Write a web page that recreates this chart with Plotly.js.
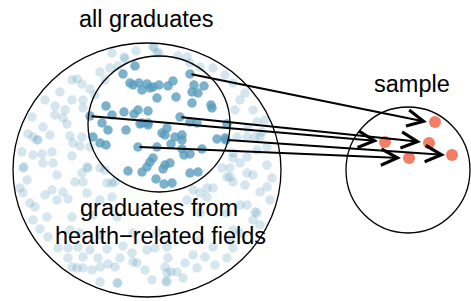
<!DOCTYPE html>
<html>
<head>
<meta charset="utf-8">
<script src="https://cdn.plot.ly/plotly-3.0.1.min.js"></script>
<style>html,body{margin:0;padding:0;background:#fff;}#chart{width:471px;height:301px;}</style>
</head>
<body>
<div id="chart"></div>
<script>
// Light dots: all graduates (outside health-related circle)
const lightX = [154,159,136,178,125,100,110,118,190,200,213,72,77,60,90,82,233,245,55,72,83,83,65,240,253,235,32,63,55,43,67,257,248,262,38,70,82,80,73,33,237,247,260,267,22,33,42,52,43,72,247,233,240,23,53,82,88,267,247,230,253,27,75,83,107,115,227,233,267,20,23,52,63,87,112,213,200,207,260,270,30,35,57,68,100,187,247,255,240,33,47,72,93,117,200,227,253,257,40,48,80,100,133,157,240,233,58,68,78,107,123,155,167,147,213,233,200,68,83,98,108,132,133,168,193,205,227,72,77,83,92,100,115,137,165,177,197,167,100,118,152,167,183,28,37,24,255,257,272,112,124,153,157,187,117,171,166,87,100,105,112,193,207,222,230,233,90,45,50,95,57,45,70,90,120,145,185,215,230,260,245,265,105,225];
const lightY = [47,53,51,56,59,72,68,66,63,67,68,80,79,92,89,84,83,93,106,100,100,108,110,100,110,110,117,118,115,127,124,122,128,132,140,136,137,146,143,137,137,137,137,147,152,155,154,152,163,156,157,153,163,168,163,173,168,165,173,168,175,180,182,182,183,182,177,182,187,188,193,190,192,193,197,188,193,197,192,200,203,207,200,199,200,200,205,212,205,220,217,217,215,217,213,213,220,213,229,237,233,235,233,233,233,230,248,248,247,249,246,248,247,250,247,248,240,258,257,258,264,253,262,258,255,257,258,267,268,268,270,267,267,263,267,272,268,273,282,283,280,282,278,134,140,167,137,150,178,53,57,47,53,57,283,272,281,167,168,170,183,190,188,168,177,158,147,100,135,95,175,195,230,250,258,270,263,265,240,225,185,120,80,75];

// Dark dots: graduates from health-related fields
const darkX = [190,135,123,130,133,139,142,147,150,153,159,168,173,157,176,194,204,192,198,192,211,212,106,90,112,124,134,138,148,142,148,102,108,126,162,167,165,175,182,180,190,197,182,157,138,217,226,93,100,106,140,148,171,182,184,190,202,225,153,150,147,142,165,170,163,128,190,198,156,164,172,227];
const darkY = [74,66,74,83,85,83,90,84,88,87,85,86,81,98,97,85,86,92,93,103,105,108,106,116,115,112,114,110,111,123,123,123,130,130,133,128,135,137,135,117,122,123,140,147,147,139,140,137,143,145,124,125,144,149,155,154,149,138,158,162,167,172,165,163,169,171,173,172,179,184,183,124];

// Sample
const sampleX = [435,385,429,452,409];
const sampleY = [122,142,143,155,158];

// Arrows: from a health-graduate dot to the sample
const arrowFromX = [190,90,180,226,138];
const arrowFromY = [74,116,117,140,147];
const arrowToX = [427,378,421,445,401];
const arrowToY = [122,141,142,155,158];

// Labels
const labelText = ["all graduates", "graduates from", "health\u2212related fields", "sample"];
const labelX = [146, 159, 160, 412];
const labelY = [19, 208, 236, 84];

// Circles (center x, center y, radius x, radius y)
const circleCX = [147, 159, 408];
const circleCY = [170, 124, 170];
const circleRX = [134, 71, 62];
const circleRY = [127, 68, 63];

const traces = [
  {x: lightX, y: lightY, type: 'scatter', mode: 'markers', hoverinfo: 'skip',
   marker: {size: 9.5, color: 'rgba(86,155,189,0.25)', line: {width: 0}}},
  {x: darkX, y: darkY, type: 'scatter', mode: 'markers', hoverinfo: 'skip',
   marker: {size: 9.5, color: 'rgba(86,155,189,0.78)', line: {width: 0}}},
  {x: sampleX, y: sampleY, type: 'scatter', mode: 'markers', hoverinfo: 'skip',
   marker: {size: 12, color: 'rgba(240,81,51,0.75)', line: {width: 0}}}
];

const shapes = circleCX.map((cx, i) => ({
  type: 'circle', xref: 'x', yref: 'y',
  x0: cx - circleRX[i], x1: cx + circleRX[i],
  y0: circleCY[i] - circleRY[i], y1: circleCY[i] + circleRY[i],
  line: {color: '#000', width: 1.3}, fillcolor: 'rgba(0,0,0,0)', layer: 'above'
}));

const annotations = [];
arrowFromX.forEach((fx, i) => {
  annotations.push({
    x: arrowToX[i], y: arrowToY[i], ax: fx, ay: arrowFromY[i],
    xref: 'x', yref: 'y', axref: 'x', ayref: 'y',
    text: '', showarrow: true, arrowhead: 5, arrowsize: 1.6, arrowwidth: 2,
    arrowcolor: '#000', standoff: 0, startstandoff: 0
  });
});
labelText.forEach((t, i) => {
  annotations.push({
    x: labelX[i], y: labelY[i], xref: 'x', yref: 'y', text: t, showarrow: false,
    xanchor: 'center', yanchor: 'middle',
    font: {family: 'Liberation Sans, Arial, sans-serif', size: 23.5, color: '#000'}
  });
});

const layout = {
  width: 471, height: 301,
  margin: {l: 0, r: 0, t: 0, b: 0, pad: 0},
  paper_bgcolor: '#fff', plot_bgcolor: '#fff',
  showlegend: false,
  xaxis: {range: [0, 471], visible: false, fixedrange: true},
  yaxis: {range: [301, 0], visible: false, fixedrange: true},
  shapes: shapes,
  annotations: annotations
};

Plotly.newPlot('chart', traces, layout, {displayModeBar: false, staticPlot: true});
</script>
</body>
</html>
